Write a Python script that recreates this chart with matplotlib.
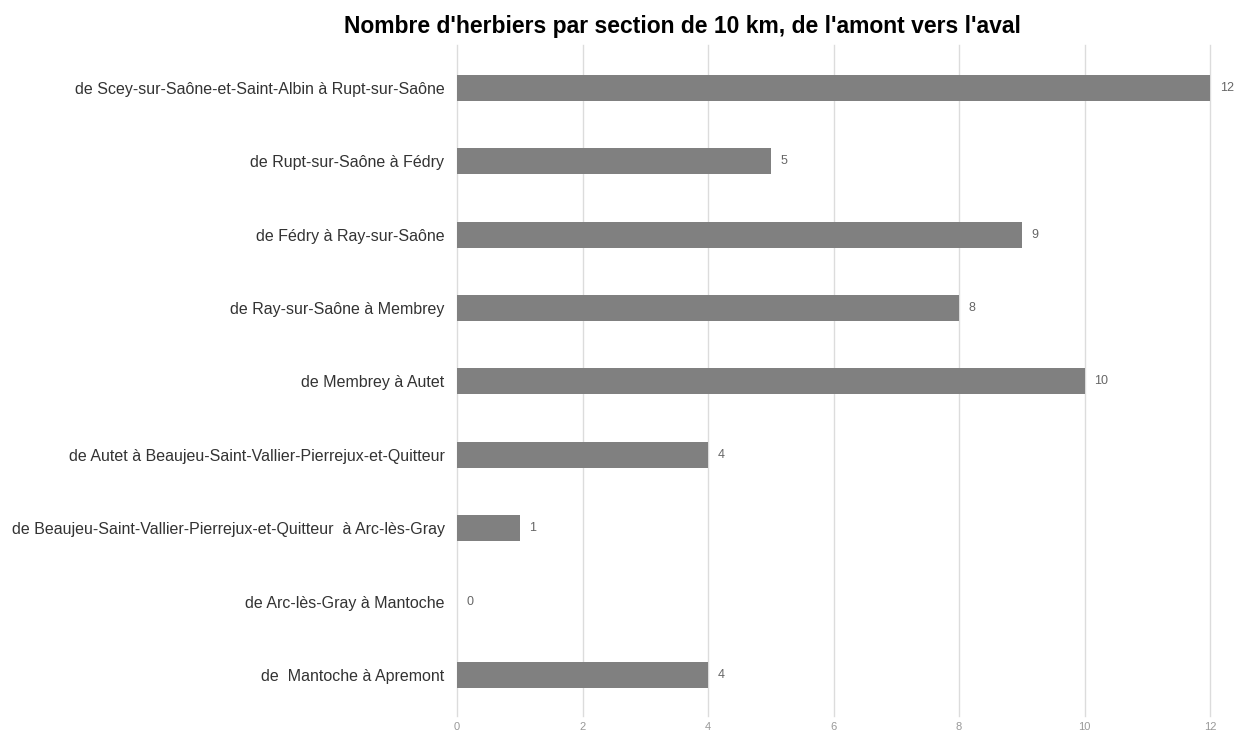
import matplotlib
matplotlib.use("Agg")
import matplotlib.pyplot as plt

# Données : sections de 10 km, de l'amont vers l'aval
sections = [
    "de Scey-sur-Saône-et-Saint-Albin à Rupt-sur-Saône",
    "de Rupt-sur-Saône à Fédry",
    "de Fédry à Ray-sur-Saône",
    "de Ray-sur-Saône à Membrey",
    "de Membrey à Autet",
    "de Autet à Beaujeu-Saint-Vallier-Pierrejux-et-Quitteur",
    "de Beaujeu-Saint-Vallier-Pierrejux-et-Quitteur  à Arc-lès-Gray",
    "de Arc-lès-Gray à Mantoche",
    "de  Mantoche à Apremont",
]
herbiers = [12, 5, 9, 8, 10, 4, 1, 0, 4]
graduations = [0, 2, 4, 6, 8, 10, 12]

plt.rcParams['font.family'] = ['Liberation Sans', 'DejaVu Sans']

fig = plt.figure(figsize=(12.36, 7.36), dpi=100)
ax = fig.add_axes([457 / 1236, 1 - 716 / 736, (1210 - 457) / 1236, (716 - 45) / 736])

pos = list(range(len(sections)))
ax.barh(pos, herbiers, height=0.354, color='#808080', zorder=2)

# étiquettes de valeur à droite des barres
for p, v in zip(pos, herbiers):
    ax.annotate(str(v), (v, p), xytext=(7, 0), textcoords='offset points',
                ha='left', va='center', fontsize=9, color='#666666')

ax.set_yticks(pos)
ax.set_yticklabels(sections, fontsize=11.5, color='#333333')
ax.set_ylim(len(sections) - 1 + 0.56, -0.586)

ax.set_xlim(0, 12)
ax.set_xticks(graduations)
ax.set_xticklabels([str(g) for g in graduations], fontsize=8, color='#999999')
ax.tick_params(axis='x', length=0, pad=4)
ax.tick_params(axis='y', length=0, pad=9)

ax.grid(axis='x', color='#dcdcdc', linewidth=1, zorder=0)
for gl in ax.get_xgridlines():
    gl.set_clip_on(False)
ax.set_axisbelow(True)
for s in ax.spines.values():
    s.set_visible(False)

fig.text(682 / 1236, 1 - 33 / 736, "Nombre d'herbiers par section de 10 km, de l'amont vers l'aval",
         ha='center', va='baseline', fontsize=16.5, fontweight='bold')

fig.savefig('out.png', dpi=100, facecolor='white')
